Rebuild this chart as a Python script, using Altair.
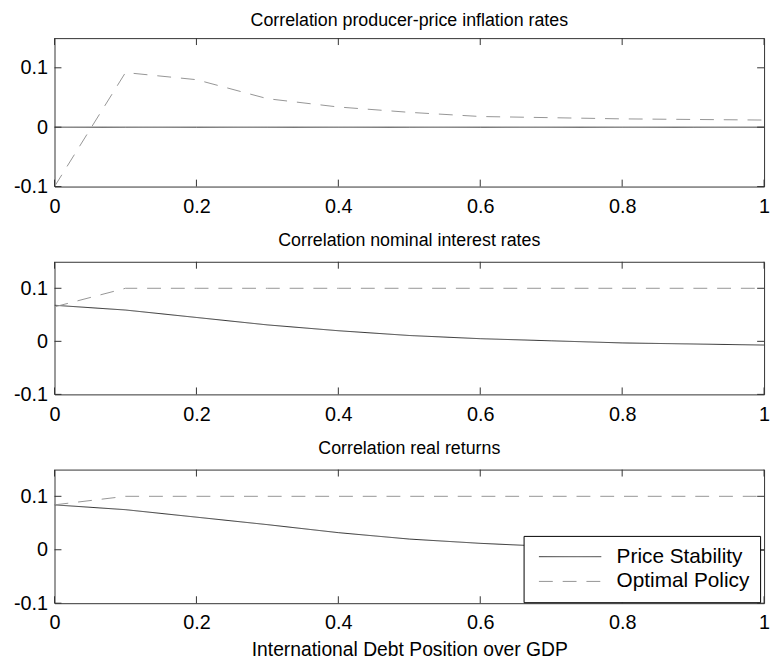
import altair as alt
import pandas as pd

# ---------------- data ----------------
X_GRID = [0.0, 0.1, 0.2, 0.3, 0.4, 0.5, 0.6, 0.7, 0.8, 0.9, 1.0]
X_TICKS = [0, 0.2, 0.4, 0.6, 0.8, 1]
Y_TICKS = [-0.1, 0, 0.1]
Y_DOMAIN = [-0.1, 0.15]
SERIES = ["Price Stability", "Optimal Policy"]
TITLES = [
    "Correlation producer-price inflation rates",
    "Correlation nominal interest rates",
    "Correlation real returns",
]
X_TITLE = "International Debt Position over GDP"

ppi_price_stability = [0.0, 0.0, 0.0, 0.0, 0.0, 0.0, 0.0, 0.0, 0.0, 0.0, 0.0]
ppi_optimal = [-0.1, 0.092, 0.080, 0.048, 0.034, 0.025, 0.018, 0.016, 0.014, 0.013, 0.012]

nom_price_stability = [0.068, 0.059, 0.045, 0.031, 0.020, 0.011, 0.005, 0.001, -0.003, -0.005, -0.007]
nom_optimal = [0.065, 0.1, 0.1, 0.1, 0.1, 0.1, 0.1, 0.1, 0.1, 0.1, 0.1]

real_price_stability = [0.084, 0.075, 0.061, 0.047, 0.032, 0.020, 0.012, 0.006, 0.002, 0.000, -0.001]
real_optimal = [0.084, 0.1, 0.1, 0.1, 0.1, 0.1, 0.1, 0.1, 0.1, 0.1, 0.1]

# ---------------- style ----------------
FONT = "Liberation Sans"
W = 717
HEIGHTS = [150, 134, 135]
TITLE_OFFSETS = [8, 11, 11]
AX = "#333333"
SOLID = "#333333"
DASHED = "#959595"
TICK_LEN = 7


def long_df(stab, opt):
    rows = []
    for s, vals in zip(SERIES, [stab, opt]):
        for x, y in zip(X_GRID, vals):
            rows.append({"x": x, "y": y, "series": s})
    return pd.DataFrame(rows)


xscale = alt.Scale(domain=[0, 1], nice=False, zero=False)
yscale = alt.Scale(domain=Y_DOMAIN, nice=False, zero=False)


def panel(title, stab, opt, h, toff, last):
    df = long_df(stab, opt)
    xaxis_kw = dict(
        values=X_TICKS, labelExpr="toString(datum.value)", ticks=False, tickSize=0,
        domain=False, grid=False, labelFontSize=20, labelFont=FONT, labelColor="black",
        labelPadding=10, labelFlush=False, labelOverlap=False,
    )
    if last:
        xaxis_kw.update(title=X_TITLE, titleFont=FONT, titleFontSize=19.5,
                        titleFontWeight="normal", titleColor="black", titlePadding=8)
    else:
        xaxis_kw.update(title=None)
    xaxis = alt.Axis(**xaxis_kw)
    yaxis = alt.Axis(
        values=Y_TICKS, labelExpr="toString(datum.value)", ticks=False, tickSize=0,
        domain=False, grid=False, labelFontSize=20, labelFont=FONT, labelColor="black",
        labelPadding=7, labelFlush=False, labelOverlap=False, title=None,
    )
    if last:
        leg = alt.Legend(
            orient="none", legendX=474, legendY=67, title=None,
            fillColor="white", strokeColor="black", padding=10,
            symbolType="stroke", symbolSize=3969, symbolStrokeWidth=1,
            symbolOffset=5, clipHeight=22, rowPadding=3, labelOffset=15,
            labelFont=FONT, labelFontSize=21, labelColor="black",
            labelExpr="datum.label + '\u00a0\u00a0\u00a0'",
            cornerRadius=0,
        )
    else:
        leg = None

    lines = alt.Chart(df).mark_line(strokeWidth=1, clip=True).encode(
        x=alt.X("x:Q", scale=xscale, axis=xaxis),
        y=alt.Y("y:Q", scale=yscale, axis=yaxis),
        color=alt.Color("series:N", scale=alt.Scale(domain=SERIES, range=[SOLID, DASHED]), legend=leg),
        strokeDash=alt.StrokeDash("series:N", scale=alt.Scale(domain=SERIES, range=[[1, 0], [14, 10]]), legend=leg),
    )

    xt = pd.DataFrame({"x": X_TICKS})
    yt = pd.DataFrame({"y": Y_TICKS})
    t_top = alt.Chart(xt).mark_rule(color=AX, strokeWidth=1).encode(
        x=alt.X("x:Q", scale=xscale, axis=xaxis), y=alt.value(0), y2=alt.value(TICK_LEN))
    t_bot = alt.Chart(xt).mark_rule(color=AX, strokeWidth=1).encode(
        x=alt.X("x:Q", scale=xscale, axis=xaxis), y=alt.value(h), y2=alt.value(h - TICK_LEN))
    t_left = alt.Chart(yt).mark_rule(color=AX, strokeWidth=1).encode(
        y=alt.Y("y:Q", scale=yscale, axis=yaxis), x=alt.value(0), x2=alt.value(TICK_LEN))
    t_right = alt.Chart(yt).mark_rule(color=AX, strokeWidth=1).encode(
        y=alt.Y("y:Q", scale=yscale, axis=yaxis), x=alt.value(W), x2=alt.value(W - TICK_LEN))

    return alt.layer(lines, t_top, t_bot, t_left, t_right).properties(
        width=W, height=h,
        title=alt.TitleParams(text=title, font=FONT, fontSize=18, fontWeight="normal",
                              color="black", offset=toff, anchor="middle"),
    )


p1 = panel(TITLES[0], ppi_price_stability, ppi_optimal, HEIGHTS[0], TITLE_OFFSETS[0], False)
p2 = panel(TITLES[1], nom_price_stability, nom_optimal, HEIGHTS[1], TITLE_OFFSETS[1], False)
p3 = panel(TITLES[2], real_price_stability, real_optimal, HEIGHTS[2], TITLE_OFFSETS[2], True)

chart = alt.vconcat(p1, p2, p3, spacing=15).resolve_scale(
    color="independent", strokeDash="independent"
).resolve_legend(
    color="independent", strokeDash="independent"
).properties(
    padding={"left": 5, "top": 0, "right": 0, "bottom": 0},
    background="white",
).configure_view(stroke=AX, strokeWidth=1)

chart.save("out.html", embed_options={"renderer": "svg", "actions": False})
